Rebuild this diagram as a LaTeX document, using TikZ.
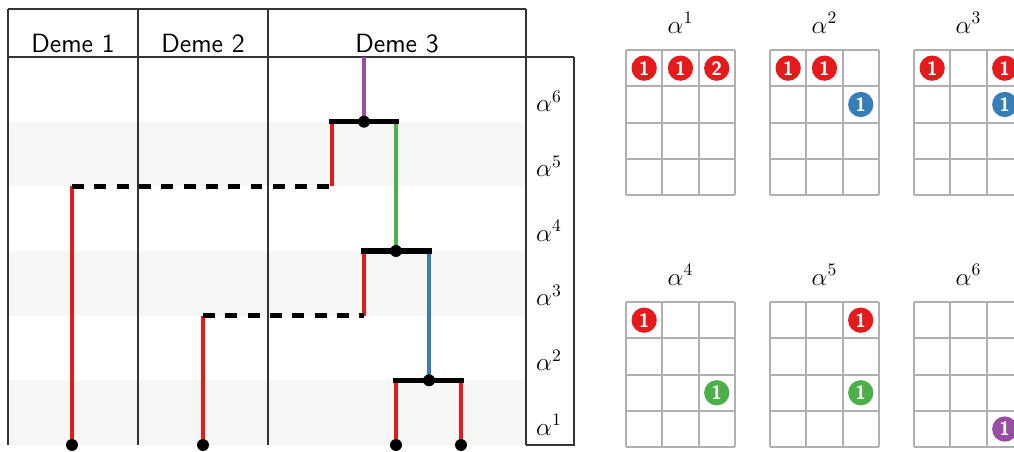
\documentclass[tikz,border=0pt]{standalone}
\usepackage{tikz}
\usetikzlibrary{positioning,calc}

\definecolor{linred}{HTML}{E41A1C}
\definecolor{linblue}{HTML}{377EB8}
\definecolor{lingreen}{HTML}{4DAF4A}
\definecolor{linpurple}{HTML}{984EA3}
\definecolor{bandgray}{HTML}{F6F6F4}
\definecolor{gridgray}{HTML}{B0B0B0}

\tikzset{
  bandfill/.style={fill=bandgray, draw=none},
  tabrule/.style={draw=black!80, line width=0.75pt},
  lineage/.style={line width=2.3pt},
  coalbar/.style={line width=2.9pt, black, line cap=rect},
  migrline/.style={line width=2.9pt, black, dash pattern=on 6.8pt off 5.9pt},
  evdot/.style={circle, fill=black, inner sep=0pt, minimum size=6.8pt},
  demehead/.style={font=\sffamily\fontsize{15}{17}\selectfont, anchor=base},
  epochlab/.style={font=\fontsize{14}{16}\selectfont, anchor=base},
  gridline/.style={draw=gridgray, line width=1.1pt},
  token/.style={circle, inner sep=0pt, minimum size=14.4pt, text=white,
    font=\sffamily\bfseries\fontsize{11}{11}\selectfont},
}

% occupancy grid: top-left x, y, name, epoch index
\newcommand{\occgrid}[4]{%
  \coordinate (#3) at (#1,#2);
  \begin{scope}[shift={(#3)}]
    \foreach \c in {0,...,3}
      \draw[gridline] (\c*36.3,0) -- (\c*36.3,145.2);
    \foreach \r in {0,...,4}
      \draw[gridline] (0,\r*36.3) -- (108.9,\r*36.3);
    \node[epochlab] (#3lab) at (54.5,-17) {$\alpha^{#4}$};
  \end{scope}
}
% token in a grid cell: grid, column, row, colour, count
\newcommand{\occtoken}[5]{%
  \node[token, fill=#4] (#1c#2r#3) at ($(#1)+({(#2-0.5)*36.3},{(#3-0.5)*36.3})$) {#5};
}

\begin{document}
\begin{tikzpicture}[x=0.02cm, y=-0.02cm]
\clip (0,0) rectangle (1014,451);

%% ── Epoch bands ──────────────────────────────────────────────────────────
\foreach \r in {1,3,5}
  \fill[bandfill] (8,{57+\r*64.67}) rectangle (526,{57+(\r+1)*64.67});

%% ── Table rules ──────────────────────────────────────────────────────────
\draw[tabrule] (8,9) -- (526,9);
\draw[tabrule] (8,57) -- (574,57);
\foreach \x in {8,138,268,526}
  \draw[tabrule] (\x,9) -- (\x,445);
\draw[tabrule] (526,445) -- (574,445) -- (574,57);

\node[demehead] (deme1) at (73,52)  {Deme 1};
\node[demehead] (deme2) at (203,52) {Deme 2};
\node[demehead] (deme3) at (397,52) {Deme 3};

\foreach \k in {1,...,6}
  \node[epochlab] (ep\k) at (549,{445-(\k-1)*64.67-10}) {$\alpha^{\k}$};

%% ── Genealogy ────────────────────────────────────────────────────────────
\node[evdot] (leaf1) at (72,445)  {};
\node[evdot] (leaf2) at (203,445) {};
\node[evdot] (leaf3) at (396,445) {};
\node[evdot] (leaf4) at (461,445) {};

\coordinate (c1l) at (396,380.3);
\coordinate (c1r) at (461,380.3);
\coordinate (c2l) at (364,251);
\coordinate (c2r) at (429,251);
\coordinate (c3l) at (332,121.7);
\coordinate (c3r) at (396,121.7);
\coordinate (m1a) at (203,315.7);
\coordinate (m1b) at (364,315.7);
\coordinate (m2a) at (72,186.3);
\coordinate (m2b) at (332,186.3);
\coordinate (root) at (364,57);

\coordinate (coal1) at (429,380.3);
\coordinate (coal2) at (396,251);
\coordinate (coal3) at (364,121.7);

\draw[lineage, linred]    (leaf3) -- (c1l);
\draw[lineage, linred]    (leaf4) -- (c1r);
\draw[lineage, linblue]   (coal1) -- (c2r);
\draw[lineage, linred]    (leaf2) -- (m1a);
\draw[lineage, linred]    (m1b) -- (c2l);
\draw[lineage, lingreen]  (coal2) -- (c3r);
\draw[lineage, linred]    (leaf1) -- (m2a);
\draw[lineage, linred]    (m2b) -- (c3l);
\draw[lineage, linpurple] (coal3) -- (root);

\draw[coalbar] (c1l) -- (c1r);
\draw[coalbar] (c2l) -- (c2r);
\draw[coalbar] (c3l) -- (c3r);
\draw[migrline] (m1a) -- (m1b);
\draw[migrline] (m2a) -- (m2b);

\node[evdot] at (coal1) {};
\node[evdot] at (coal2) {};
\node[evdot] at (coal3) {};

%% ── Occupancy grids ──────────────────────────────────────────────────────
\occgrid{626}{50}{g1}{1}
\occgrid{770}{50}{g2}{2}
\occgrid{914}{50}{g3}{3}
\occgrid{626}{302}{g4}{4}
\occgrid{770}{302}{g5}{5}
\occgrid{914}{302}{g6}{6}

\occtoken{g1}{1}{1}{linred}{1}
\occtoken{g1}{2}{1}{linred}{1}
\occtoken{g1}{3}{1}{linred}{2}

\occtoken{g2}{1}{1}{linred}{1}
\occtoken{g2}{2}{1}{linred}{1}
\occtoken{g2}{3}{2}{linblue}{1}

\occtoken{g3}{1}{1}{linred}{1}
\occtoken{g3}{3}{1}{linred}{1}
\occtoken{g3}{3}{2}{linblue}{1}

\occtoken{g4}{1}{1}{linred}{1}
\occtoken{g4}{3}{3}{lingreen}{1}

\occtoken{g5}{3}{1}{linred}{1}
\occtoken{g5}{3}{3}{lingreen}{1}

\occtoken{g6}{3}{4}{linpurple}{1}

\end{tikzpicture}
\end{document}
